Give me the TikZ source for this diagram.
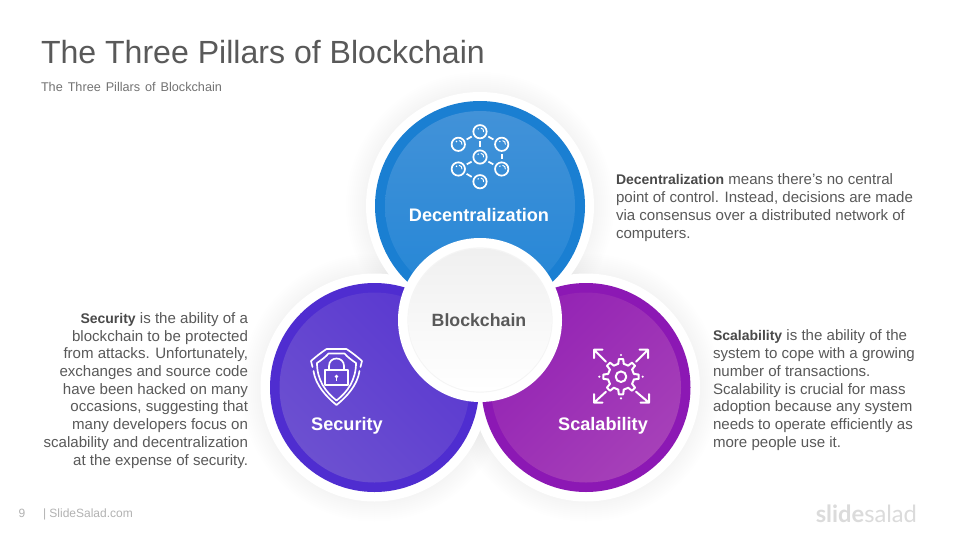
\documentclass[tikz,border=0pt]{standalone}
\usepackage{fontspec}
\setmainfont{Liberation Sans}
\newfontfamily\logofont{Lato}
\usetikzlibrary{calc}
\definecolor{bluedark}{HTML}{1A7FD2}
\definecolor{bluetop}{HTML}{4292D8}
\definecolor{bluebot}{HTML}{2486D6}
\definecolor{secdark}{HTML}{4F2DD0}
\definecolor{secA}{HTML}{6C50D0}
\definecolor{secB}{HTML}{5A38D0}
\definecolor{scadark}{HTML}{8C18B4}
\definecolor{scaA}{HTML}{A640B8}
\definecolor{scaB}{HTML}{9322B4}
\definecolor{bodytext}{HTML}{595959}
\definecolor{boldtext}{HTML}{4A4A4A}
\tikzset{
  every node/.style={inner sep=0pt,outer sep=0pt},
  bodystyle/.style={font=\fontsize{11.3}{13.28}\selectfont,text=bodytext},
  circlelabel/.style={font=\fontsize{13.6}{16}\selectfont\bfseries,text=white},
  icon/.style={draw=white,line width=1.25pt,line cap=round,line join=round},
  thickicon/.style={draw=white,line width=1.5pt,line cap=round,line join=round},
  netnode/.style={circle,draw=white,line width=1.3pt,minimum size=10pt},
  netlink/.style={draw=white,line width=1.3pt,shorten >=2.2pt,shorten <=2.2pt},
}
\newcommand{\softshadow}[3]{%
  \foreach \k in {0,1,...,9}{\fill[black,opacity=0.003] (#1,#2) circle ({#3+20-2*\k});}}
\newcommand{\hl}[1]{{\fontsize{10.5}{13.28}\selectfont\textbf{\textcolor{boldtext}{#1}}}}
\newcommand{\gleam}[1]{\draw[white,line width=0.7pt,line cap=round] ($(#1)+(1,-3.6)$) .. controls ($(#1)+(3,-3.2)$) and ($(#1)+(3.8,-2)$) .. ($(#1)+(3.6,0)$);\fill[white] ($(#1)+(-1.8,-2.8)$) circle (0.8);}
\begin{document}
\begin{tikzpicture}[x=0.75pt,y=-0.75pt]
\useasboundingbox (0,0) rectangle (960,540);
\fill[white] (0,0) rectangle (960,540);
% title
\node[anchor=base west,font=\fontsize{24.05}{28}\selectfont,text=bodytext] (title) at (41,63) {The Three Pillars of Blockchain};
\node[anchor=base west,font=\fontsize{9.5}{11}\selectfont,text=black!55] (subtitle) at (41,91) {\spaceskip=3.7pt The Three Pillars of Blockchain};
% shadows and white rings
\softshadow{480}{206}{114}
\softshadow{374.5}{387.5}{114}
\softshadow{586}{387.5}{114}
\fill[white] (480,206) circle (114);
\fill[white] (374.5,387.5) circle (114);
\fill[white] (586,387.5) circle (114);
% coloured discs
\fill[bluedark] (480,206) circle (105);
\shade[top color=bluetop,bottom color=bluebot] (480,206) circle (95);
\fill[secdark] (374.5,387.5) circle (104.5);
\shade[top color=secA,bottom color=secB,shading angle=135] (374.5,387.5) circle (95);
\fill[scadark] (586,387.5) circle (104.5);
\shade[top color=scaA,bottom color=scaB,shading angle=225] (586,387.5) circle (95);
% centre
\fill[white] (480,320) circle (82);
\draw[black!4,line width=0.9pt] (480,320) circle (72);
\shade[top color=black!6,middle color=white,bottom color=white] (480,320) circle (71.5);
% labels
\node[circlelabel] (dec) at (479,215) {Decentralization};
\node[circlelabel] (sec) at (347,425.5) {Security};
\node[circlelabel] (sca) at (603,425.5) {Scalability};
\node[font=\fontsize{13.3}{16}\selectfont\bfseries,text=bodytext] (core) at (479,320) {Blockchain};
% network icon
\node[netnode] (n1) at (480,131.7) {};
\node[netnode] (n2) at (458.3,144.3) {};
\node[netnode] (n3) at (501.7,144.3) {};
\node[netnode] (n4) at (480,157) {};
\node[netnode] (n5) at (458.3,169) {};
\node[netnode] (n6) at (501.7,169) {};
\node[netnode] (n7) at (480,181.7) {};
\foreach \a/\b in {n1/n2,n1/n3,n1/n4,n3/n6,n4/n5,n4/n6,n5/n7}{\draw[netlink] (\a) -- (\b);}
\foreach \n in {n1,n2,n3,n4,n5,n6,n7}{\gleam{\n}}
% shield icon
\begin{scope}[shift={(336.5,377)}]
\draw[icon] (-24,-10) -- (-25.5,-16) .. controls (-21,-20) and (-16,-24) .. (-10,-28) -- (10,-28) .. controls (16,-24) and (21,-20) .. (25.5,-16) -- (24,-10);
\draw[icon] (-23,-6) .. controls (-21,8) and (-10,20) .. (0,28) .. controls (10,20) and (21,8) .. (23,-6);
\draw[icon] (-19.5,-14) .. controls (-15,-17) and (-11,-20) .. (-8,-23.5) -- (8,-23.5) .. controls (11,-20) and (15,-17) .. (19.5,-14) .. controls (19.5,3) and (11,15) .. (0,23.5) .. controls (-11,15) and (-19.5,3) .. (-19.5,-14) -- cycle;
\draw[icon] (-11.3,-7) rectangle (11.3,8);
\draw[icon] (-7.5,-7) -- (-7.5,-11) .. controls (-7.5,-21) and (7.5,-21) .. (7.5,-11) -- (7.5,-7);
\fill[white] (0,-0.5) circle (1.8);
\draw[white,line width=0.9pt] (0,-0.5) -- (0,3.5);
\end{scope}
% gear icon
\begin{scope}[shift={(621,376.7)}]
\draw[thickicon] (-12:13.2) \foreach \a in {0,45,...,315}{ -- ({\a-12}:13.2) -- ({\a-7}:17.8) -- ({\a+7}:17.8) -- ({\a+12}:13.2) -- ({\a+33}:13.2)} -- cycle;
\draw[thickicon] (0,0) circle (5.3);
\foreach \p in {(0,-21.7),(0,21.7),(-21.7,0),(21.7,0)}{\fill[white] \p circle (1.2);}
\draw[thickicon] (-15,-15) -- (-27,-27) (-27,-18.5) -- (-27,-27) -- (-18.5,-27);
\draw[thickicon] (15,-15) -- (27,-27) (27,-18.5) -- (27,-27) -- (18.5,-27);
\draw[thickicon] (-15,15) -- (-27,26) (-27,17.5) -- (-27,26) -- (-18.5,26);
\draw[thickicon] (15,15) -- (28,26) (28,17.5) -- (28,26) -- (19.5,26);
\end{scope}
% body text
\node[bodystyle,anchor=north west,align=left] (txtdec) at (616,174) {\hl{Decentralization} means there’s no central\\point of control. Instead, decisions are made\\via consensus over a distributed network of\\computers.};
\node[bodystyle,anchor=north west,align=left] (txtsca) at (713,330) {\hl{Scalability} is the ability of the\\system to cope with a growing\\number of transactions.\\Scalability is crucial for mass\\adoption because any system\\needs to operate efficiently as\\more people use it.};
\node[bodystyle,anchor=north east,align=right] (txtsec) at (248,312.5) {\hl{Security} is the ability of a\\blockchain to be protected\\from attacks. Unfortunately,\\exchanges and source code\\have been hacked on many\\occasions, suggesting that\\many developers focus on\\scalability and decentralization\\at the expense of security.};
% footer
\node[font=\fontsize{9}{11}\selectfont,text=black!30] (page) at (22,513.5) {9};
\node[anchor=west,font=\fontsize{9}{11}\selectfont,text=black!30] (site) at (43,514) {| SlideSalad.com};
\node[anchor=east,font=\logofont\fontsize{17.8}{22}\selectfont,text=black!14] (logo) at (917,514) {\textbf{slide}salad};
\end{tikzpicture}
\end{document}
